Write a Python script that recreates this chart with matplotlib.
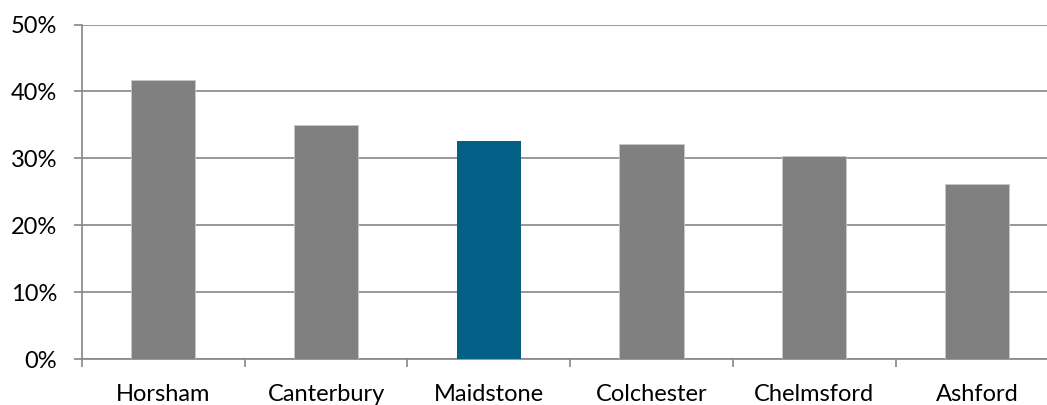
import numpy as np
import matplotlib
matplotlib.use("Agg")
import matplotlib.pyplot as plt
from matplotlib.ticker import FuncFormatter

towns = ["Horsham", "Canterbury", "Maidstone", "Colchester", "Chelmsford", "Ashford"]
share = [41.7, 35.0, 32.6, 32.2, 30.3, 26.2]
highlight = "Maidstone"

grey = "#808080"
blue = "#035f85"
grid_col = "#868686"

plt.rcParams["font.family"] = ["Lato", "DejaVu Sans"]

fig = plt.figure(figsize=(10.47, 4.05), dpi=100)
# plot area runs past the right edge, as in the cropped original
ax = fig.add_axes([82 / 1047, 46 / 405, 976.2 / 1047, 334.5 / 405])

x = np.arange(len(towns))
colors = [blue if t == highlight else grey for t in towns]
edges = ["none" if t == highlight else "#c8c8c8" for t in towns]
ax.bar(x, share, width=0.395, color=colors, edgecolor=edges, linewidth=0.6, zorder=3)

ax.set_xlim(-0.5, len(towns) - 0.5)
ax.set_ylim(0, 50)
ax.set_yticks(np.arange(0, 51, 10))
ax.yaxis.set_major_formatter(FuncFormatter(lambda v, p: "%d%%" % v))
ax.grid(axis="y", color=grid_col, linewidth=1.2, zorder=0)

ax.set_xticks(x)
ax.set_xticklabels(towns)
ax.set_xticks(np.arange(-0.5, len(towns)), minor=True)
ax.tick_params(axis="x", which="major", length=0, pad=18, labelsize=17, colors="black")
ax.tick_params(axis="x", which="minor", length=5.8, width=1.2, color=grid_col)
ax.tick_params(axis="y", length=5.8, width=1.2, color=grid_col, pad=12, labelsize=17)

for side in ["top", "right"]:
    ax.spines[side].set_visible(False)
for side in ["left", "bottom"]:
    ax.spines[side].set_color(grid_col)
    ax.spines[side].set_linewidth(1.2)

fig.savefig("out.png", dpi=100)
